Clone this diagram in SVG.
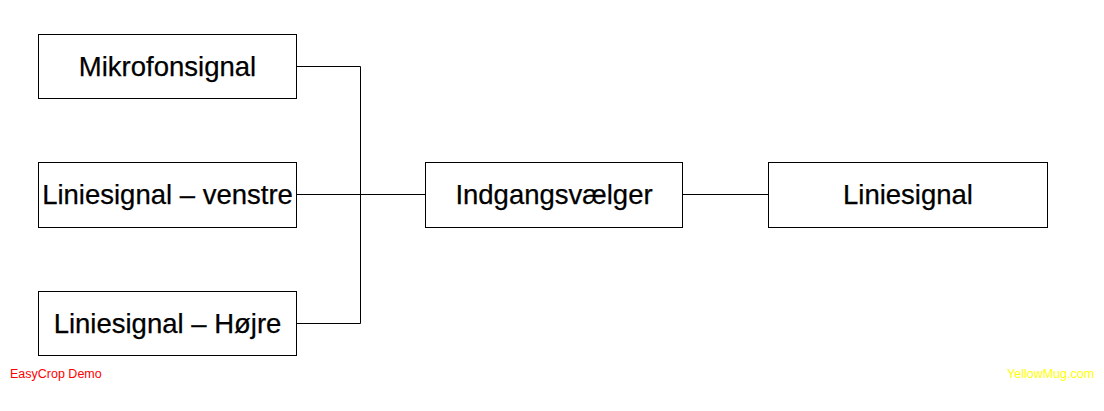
<svg xmlns="http://www.w3.org/2000/svg" width="1104" height="411" viewBox="0 0 1104 411">
<style>
.box{fill:#fff;stroke:#000;stroke-width:1}
.lbl{font-family:"Liberation Sans",Arial,sans-serif;font-size:27.5px;fill:#000;text-anchor:middle;stroke:#000;stroke-width:0.25}
.conn{fill:none;stroke:#000;stroke-width:1}
.wm{font-family:"Liberation Sans",Arial,sans-serif;font-size:12.5px}
</style>
<rect width="1104" height="411" fill="#fff"/>
<g id="connectors">
<polyline class="conn" points="296.5,66.5 360.5,66.5 360.5,323.5 296.5,323.5"/>
<line class="conn" x1="296.5" y1="194.5" x2="425.5" y2="194.5"/>
<line class="conn" x1="682.5" y1="194.5" x2="768.5" y2="194.5"/>
</g>
<g id="mikrofonsignal">
<rect class="box" x="38.5" y="34.5" width="258" height="64"/>
<text class="lbl" x="167.5" y="75.5">Mikrofonsignal</text>
</g>
<g id="liniesignal-venstre">
<rect class="box" x="38.5" y="162.5" width="258" height="65"/>
<text class="lbl" x="167.5" y="204">Liniesignal – venstre</text>
</g>
<g id="liniesignal-hoejre">
<rect class="box" x="38.5" y="291.5" width="258" height="64"/>
<text class="lbl" x="167.5" y="333">Liniesignal – Højre</text>
</g>
<g id="indgangsvaelger">
<rect class="box" x="425.5" y="162.5" width="257" height="65"/>
<text class="lbl" x="554" y="204">Indgangsvælger</text>
</g>
<g id="liniesignal">
<rect class="box" x="768.5" y="162.5" width="279" height="65"/>
<text class="lbl" x="908" y="204">Liniesignal</text>
</g>
<text class="wm" x="10" y="378" fill="#ff0000">EasyCrop Demo</text>
<text class="wm" x="1007" y="378" fill="#ffff00">YellowMug.com</text>
</svg>
